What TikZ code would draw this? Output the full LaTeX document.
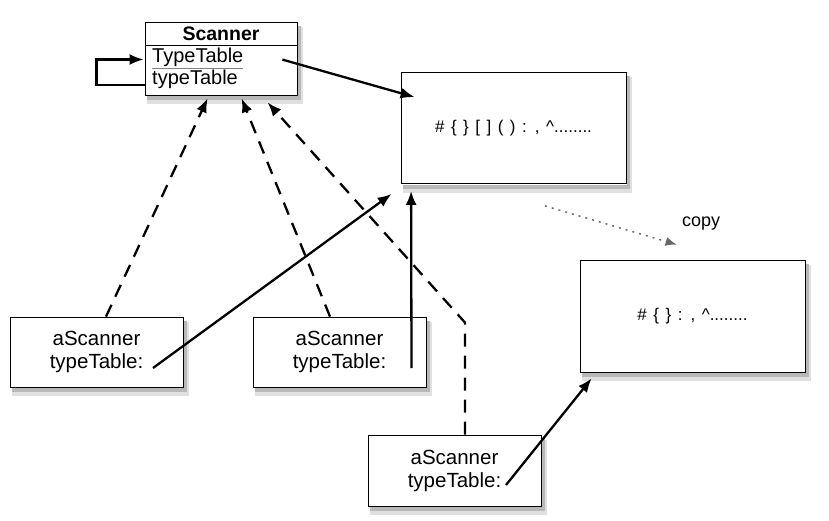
\documentclass[tikz,border=0pt]{standalone}
\usepackage{fontspec}
\setmainfont{Liberation Sans}
\usetikzlibrary{arrows.meta}
\newcommand{\widespacing}{\spaceskip=6.5pt\relax}

\begin{document}
\begin{tikzpicture}[x=1pt,y=-1pt,
        box/.style={draw,thick,fill=white,inner sep=0pt},
        objbox/.style={box,minimum width=173pt,minimum height=70pt,align=center,
            font=\fontsize{20.5}{23}\selectfont},
        tablebox/.style={box,minimum width=225pt,minimum height=111pt,
            font=\fontsize{17}{18}\selectfont\widespacing},
        row/.style={anchor=west,inner sep=0pt,font=\fontsize{20}{20}\selectfont},
        shade/.style={fill=black!#1,draw=none},
        flow/.style={-{Latex[length=14pt,width=11pt]},line width=2.3pt},
        link/.style={flow,dash pattern=on 13pt off 9pt},
        copyflow/.style={-{Latex[length=11pt,width=9pt]},line width=1.4pt,gray!80!black,dash pattern=on 2pt off 5pt}]
    \useasboundingbox (0,0) rectangle (829,521);
    % class box
    \node[box,minimum width=152pt,minimum height=73pt] (scanner) at (221,58.5) {};
    \node[font=\fontsize{19.5}{20}\selectfont\bfseries] (title) at (221,33.5) {Scanner};
    \draw[thick] (145,45) -- (297,45);
    \node[row] (static) at (152,58) {\textcolor{gray}{\underline{\textcolor{black}{TypeTable}}}};
    \node[row] (member) at (152,79.5) {typeTable};
    % tables
    \node[tablebox] (table) at (513.5,128) {\# \{ \} [ ] ( ) : , \textasciicircum........};
    \node[tablebox,minimum height=112pt] (tablecopy) at (692.5,316) {\# \{ \} : , \textasciicircum........};
    % instances
    \node[objbox] (first) at (96.5,352) {aScanner\\typeTable:};
    \node[objbox] (second) at (339.5,352) {aScanner\\typeTable:};
    \node[objbox,minimum height=71pt] (third) at (454.5,470.5) {aScanner\\typeTable:};
    \node[font=\fontsize{18}{18}\selectfont] (copylbl) at (701,224) {copy};
    % shadows: strips below and right of each box
    \foreach \boxname in {scanner,table,tablecopy,first,second,third} {
        \path[shade=12] ([xshift=2pt,yshift=-0.8pt]\boxname.south west) rectangle ([xshift=6pt,yshift=-9pt]\boxname.south east);
        \path[shade=12] ([xshift=0.8pt,yshift=-5pt]\boxname.north east) rectangle ([xshift=6pt,yshift=-9pt]\boxname.south east);
        \path[shade=28] ([xshift=2pt,yshift=-0.8pt]\boxname.south west) rectangle ([xshift=3.5pt,yshift=-5pt]\boxname.south east);
        \path[shade=28] ([xshift=0.8pt,yshift=-4pt]\boxname.north east) rectangle ([xshift=3.5pt,yshift=-5pt]\boxname.south east);
    }
    % self reference
    \draw[flow] ([yshift=-26.5pt]scanner.west) -- ++(-48,0) |- ([yshift=-1.5pt,xshift=-1pt]scanner.west |- static.center);
    \draw[flow] ([xshift=-15pt,yshift=-38pt]scanner.north east) -- ([xshift=14pt,yshift=-25pt]table.north west);
    \draw[copyflow] ([xshift=31.5pt,yshift=-22pt]table.south) -- ([xshift=97pt,yshift=15pt]tablecopy.north west);
    % instance of
    \draw[link] ([xshift=9.5pt]first.north) -- ([xshift=63pt,yshift=-3pt]scanner.south west);
    \draw[link] ([xshift=-9.5pt]second.north) -- ([xshift=97pt,yshift=-3pt]scanner.south west);
    \draw[link] ([xshift=10.5pt]third.north) -- ++(0,-112) -- ([xshift=123pt,yshift=-7pt]scanner.south west);
    % table references
    \draw[flow] ([xshift=56.5pt,yshift=-16pt]first.center) -- ([xshift=-9pt,yshift=-10pt]table.south west);
    \draw[flow] ([xshift=72pt,yshift=-16pt]second.center) -- ([xshift=10.5pt,yshift=-7pt]table.south west);
    \draw[flow] ([xshift=51.5pt,yshift=-14.5pt]third.center) -- ([xshift=12pt,yshift=-6pt]tablecopy.south west);
\end{tikzpicture}
\end{document}
